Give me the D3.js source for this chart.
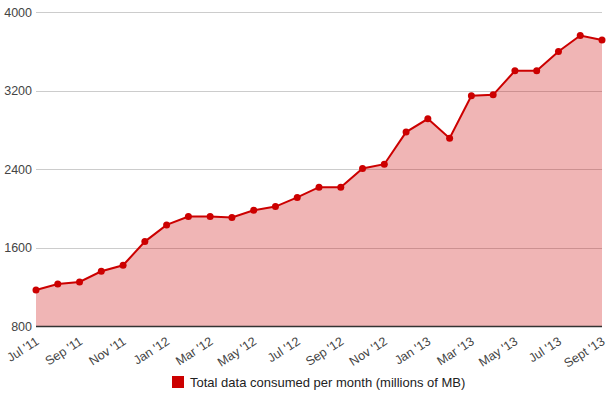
<!DOCTYPE html>
<html>
<head>
<meta charset="utf-8">
<script src="https://cdn.jsdelivr.net/npm/d3@7"></script>
<style>
  body { margin: 0; background: #fff; }
  text { font-family: "Liberation Sans", Arial, sans-serif; }
</style>
</head>
<body>
<div id="chart"></div>
<script>
// data
var months = ["Jul '11", "Aug '11", "Sep '11", "Oct '11", "Nov '11", "Dec '11",
  "Jan '12", "Feb '12", "Mar '12", "Apr '12", "May '12", "Jun '12",
  "Jul '12", "Aug '12", "Sep '12", "Oct '12", "Nov '12", "Dec '12",
  "Jan '13", "Feb '13", "Mar '13", "Apr '13", "May '13", "Jun '13",
  "Jul '13", "Aug '13", "Sept '13"];
var consumed = [1167, 1228, 1249, 1358, 1419, 1660,
  1830, 1915, 1915, 1905, 1980, 2017,
  2110, 2215, 2215, 2405, 2449, 2776,
  2911, 2714, 3146, 3156, 3401, 3401,
  3598, 3761, 3714];
var yTicks = [800, 1600, 2400, 3200, 4000];
var seriesName = "Total data consumed per month (millions of MB)";

// svg container
var svgWidth = 612;
var svgHeight = 396;

var margin = { top: 12, right: 10, bottom: 70, left: 36 };
var chartWidth = svgWidth - margin.left - margin.right;
var chartHeight = svgHeight - margin.top - margin.bottom;

var svg = d3.select("#chart").append("svg")
  .attr("width", svgWidth)
  .attr("height", svgHeight);

var chartGroup = svg.append("g")
  .attr("transform", `translate(${margin.left}, ${margin.top})`);

// scales
var xScale = d3.scalePoint()
  .domain(months)
  .range([0, chartWidth]);

var yScale = d3.scaleLinear()
  .domain([800, 4000])
  .range([chartHeight, 0]);

// gridlines
chartGroup.append("g")
  .selectAll("line")
  .data(yTicks.slice(1))
  .enter()
  .append("line")
  .attr("x1", 0)
  .attr("x2", chartWidth)
  .attr("y1", d => Math.round(yScale(d)) + 0.5)
  .attr("y2", d => Math.round(yScale(d)) + 0.5)
  .attr("stroke", "#cccccc")
  .attr("stroke-width", 1);

// area
var area = d3.area()
  .x((d, i) => xScale(months[i]))
  .y0(chartHeight)
  .y1(d => yScale(d));

chartGroup.append("path")
  .datum(consumed)
  .attr("d", area)
  .attr("fill", "#cc0000")
  .attr("fill-opacity", 0.29);

// y axis labels
var yAxis = d3.axisLeft(yScale)
  .tickValues(yTicks)
  .tickFormat(d3.format("d"))
  .tickSize(0)
  .tickPadding(4);
var yAxisG = chartGroup.append("g").call(yAxis);
yAxisG.select(".domain").remove();
yAxisG.selectAll("text")
  .attr("fill", "#444")
  .style("font-family", "'Liberation Sans', Arial, sans-serif")
  .style("font-size", "12.5px");

// baseline
chartGroup.append("line")
  .attr("x1", 0)
  .attr("x2", chartWidth)
  .attr("y1", chartHeight + 0.5)
  .attr("y2", chartHeight + 0.5)
  .attr("stroke", "#333")
  .attr("stroke-width", 1.5);

// line
var line = d3.line()
  .x((d, i) => xScale(months[i]))
  .y(d => yScale(d));

chartGroup.append("path")
  .datum(consumed)
  .attr("d", line)
  .attr("fill", "none")
  .attr("stroke", "#cc0000")
  .attr("stroke-width", 2);

// points
chartGroup.selectAll("circle")
  .data(consumed)
  .enter()
  .append("circle")
  .attr("cx", (d, i) => xScale(months[i]))
  .attr("cy", d => yScale(d))
  .attr("r", 3.5)
  .attr("fill", "#cc0000");

// x labels, every second month, rotated
var xLabels = chartGroup.append("g")
  .selectAll("g")
  .data(months.filter((m, i) => i % 2 === 0))
  .enter()
  .append("g")
  .attr("transform", d => `translate(${xScale(d) - 1}, ${chartHeight + 10})`);

xLabels.append("text")
  .attr("transform", "rotate(-33)")
  .attr("text-anchor", "end")
  .attr("dy", "0.7em")
  .attr("fill", "#444")
  .style("font-size", "12.5px")
  .text(d => d);

// legend
var legend = svg.append("g")
  .attr("transform", "translate(172, 376)");

legend.append("rect")
  .attr("width", 12)
  .attr("height", 12)
  .attr("fill", "#cc0000");

legend.append("text")
  .attr("x", 18)
  .attr("y", 11)
  .attr("fill", "#222")
  .style("font-size", "13px")
  .text(seriesName);
</script>
</body>
</html>
